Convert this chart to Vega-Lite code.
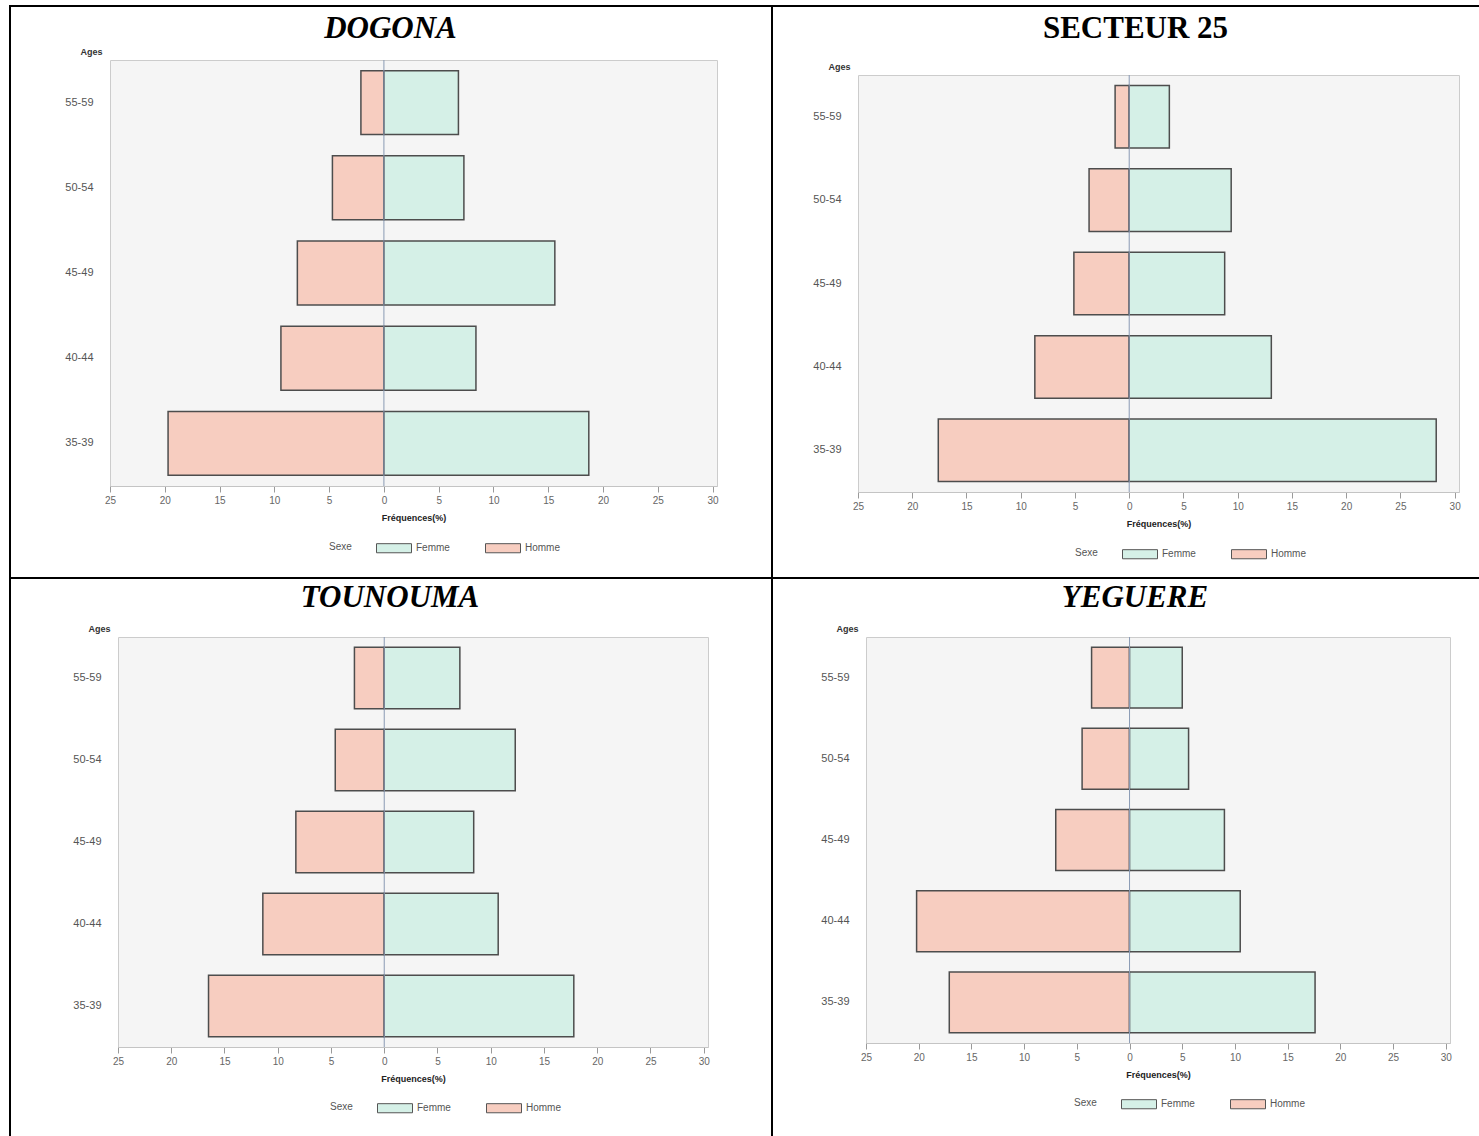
{
"$schema": "https://vega.github.io/schema/vega-lite/v6.json",
"padding": {"left": 9, "top": 5, "right": 0, "bottom": 0},
"background": "white",
"datasets": {
 "pyr": [
  {"site": "DOGONA", "age": "55-59", "sexe": "Homme", "freq": -2.1},
  {"site": "DOGONA", "age": "55-59", "sexe": "Femme", "freq": 6.8},
  {"site": "DOGONA", "age": "50-54", "sexe": "Homme", "freq": -4.7},
  {"site": "DOGONA", "age": "50-54", "sexe": "Femme", "freq": 7.3},
  {"site": "DOGONA", "age": "45-49", "sexe": "Homme", "freq": -7.9},
  {"site": "DOGONA", "age": "45-49", "sexe": "Femme", "freq": 15.6},
  {"site": "DOGONA", "age": "40-44", "sexe": "Homme", "freq": -9.4},
  {"site": "DOGONA", "age": "40-44", "sexe": "Femme", "freq": 8.4},
  {"site": "DOGONA", "age": "35-39", "sexe": "Homme", "freq": -19.7},
  {"site": "DOGONA", "age": "35-39", "sexe": "Femme", "freq": 18.7},
  {"site": "SECTEUR 25", "age": "55-59", "sexe": "Homme", "freq": -1.3},
  {"site": "SECTEUR 25", "age": "55-59", "sexe": "Femme", "freq": 3.7},
  {"site": "SECTEUR 25", "age": "50-54", "sexe": "Homme", "freq": -3.7},
  {"site": "SECTEUR 25", "age": "50-54", "sexe": "Femme", "freq": 9.4},
  {"site": "SECTEUR 25", "age": "45-49", "sexe": "Homme", "freq": -5.1},
  {"site": "SECTEUR 25", "age": "45-49", "sexe": "Femme", "freq": 8.8},
  {"site": "SECTEUR 25", "age": "40-44", "sexe": "Homme", "freq": -8.7},
  {"site": "SECTEUR 25", "age": "40-44", "sexe": "Femme", "freq": 13.1},
  {"site": "SECTEUR 25", "age": "35-39", "sexe": "Homme", "freq": -17.6},
  {"site": "SECTEUR 25", "age": "35-39", "sexe": "Femme", "freq": 28.3},
  {"site": "TOUNOUMA", "age": "55-59", "sexe": "Homme", "freq": -2.8},
  {"site": "TOUNOUMA", "age": "55-59", "sexe": "Femme", "freq": 7.1},
  {"site": "TOUNOUMA", "age": "50-54", "sexe": "Homme", "freq": -4.6},
  {"site": "TOUNOUMA", "age": "50-54", "sexe": "Femme", "freq": 12.3},
  {"site": "TOUNOUMA", "age": "45-49", "sexe": "Homme", "freq": -8.3},
  {"site": "TOUNOUMA", "age": "45-49", "sexe": "Femme", "freq": 8.4},
  {"site": "TOUNOUMA", "age": "40-44", "sexe": "Homme", "freq": -11.4},
  {"site": "TOUNOUMA", "age": "40-44", "sexe": "Femme", "freq": 10.7},
  {"site": "TOUNOUMA", "age": "35-39", "sexe": "Homme", "freq": -16.5},
  {"site": "TOUNOUMA", "age": "35-39", "sexe": "Femme", "freq": 17.8},
  {"site": "YEGUERE", "age": "55-59", "sexe": "Homme", "freq": -3.6},
  {"site": "YEGUERE", "age": "55-59", "sexe": "Femme", "freq": 5.0},
  {"site": "YEGUERE", "age": "50-54", "sexe": "Homme", "freq": -4.5},
  {"site": "YEGUERE", "age": "50-54", "sexe": "Femme", "freq": 5.6},
  {"site": "YEGUERE", "age": "45-49", "sexe": "Homme", "freq": -7.0},
  {"site": "YEGUERE", "age": "45-49", "sexe": "Femme", "freq": 9.0},
  {"site": "YEGUERE", "age": "40-44", "sexe": "Homme", "freq": -20.2},
  {"site": "YEGUERE", "age": "40-44", "sexe": "Femme", "freq": 10.5},
  {"site": "YEGUERE", "age": "35-39", "sexe": "Homme", "freq": -17.1},
  {"site": "YEGUERE", "age": "35-39", "sexe": "Femme", "freq": 17.6}
 ]
},
"spacing": 0,
"vconcat": [
 {
  "spacing": 0,
  "hconcat": [
   {
    "columns": 4, "spacing": 0, "bounds": "flush", "align": "each",
    "concat": [
     {"width": 2, "height": 2, "data": {"values": []}, "mark": "point", "view": {"fill": "black", "stroke": null}},
     {"width": 99, "height": 2, "data": {"values": []}, "mark": "point", "view": {"fill": "black", "stroke": null}},
     {"width": 607, "height": 2, "data": {"values": []}, "mark": "point", "view": {"fill": "black", "stroke": null}},
     {"width": 54, "height": 2, "data": {"values": []}, "mark": "point", "view": {"fill": "black", "stroke": null}},
     {"width": 2, "height": 53, "data": {"values": []}, "mark": "point", "view": {"fill": "black", "stroke": null}},
     {"width": 99, "height": 53, "data": {"values": []}, "mark": "point"},
     {"width": 607, "height": 53, "data": {"values": []}, "mark": "point"},
     {"width": 54, "height": 53, "data": {"values": []}, "mark": "point"},
     {"width": 2, "height": 426, "data": {"values": []}, "mark": "point", "view": {"fill": "black", "stroke": null}},
     {"width": 99, "height": 426, "data": {"values": []}, "mark": "point"},
     {
      "width": 607, "height": 426,
      "title": {"text": "DOGONA", "fontStyle": "italic", "offset": 2},
      "data": {"name": "pyr"},
      "transform": [{"filter": "datum.site === 'DOGONA'"}],
      "view": {"fill": "#f5f5f5", "stroke": "#cccccc"},
      "layer": [
       {"mark": {"type": "bar", "stroke": "#4d4d4d", "strokeWidth": 1.5},
        "encoding": {
         "y": {"field": "age", "type": "nominal", "sort": ["55-59","50-54","45-49","40-44","35-39"], "scale": {"paddingInner": 0.25, "paddingOuter": 0.125}, "axis": {"title": "Ages"}},
         "x": {"field": "freq", "type": "quantitative", "stack": null, "scale": {"domain": [-25, 30.4], "nice": false}, "axis": {"title": "Fréquences(%)"}},
         "fill": {"field": "sexe", "type": "nominal", "scale": {"domain": ["Femme","Homme"], "range": ["#d5f0e7","#f7cdc0"]}, "legend": {"title": "Sexe", "legendX": 219, "legendY": 470}}
        }},
       {"data": {"values": [{}]}, "mark": {"type": "rule", "color": "#8a9ab4", "strokeWidth": 1}, "encoding": {"x": {"datum": 0}}}
      ]
     },
     {"width": 54, "height": 426, "data": {"values": []}, "mark": "point"},
     {"width": 2, "height": 91, "data": {"values": []}, "mark": "point", "view": {"fill": "black", "stroke": null}},
     {"width": 99, "height": 91, "data": {"values": []}, "mark": "point"},
     {"width": 607, "height": 91, "data": {"values": []}, "mark": "point"},
     {"width": 54, "height": 91, "data": {"values": []}, "mark": "point"}
    ],
    "resolve": {"scale": {"x": "independent", "y": "independent", "fill": "independent"}, "axis": {"x": "independent", "y": "independent"}, "legend": {"fill": "independent"}}
   },
   {
    "columns": 4, "spacing": 0, "bounds": "flush", "align": "each",
    "concat": [
     {"width": 2, "height": 2, "data": {"values": []}, "mark": "point", "view": {"fill": "black", "stroke": null}},
     {"width": 85, "height": 2, "data": {"values": []}, "mark": "point", "view": {"fill": "black", "stroke": null}},
     {"width": 601, "height": 2, "data": {"values": []}, "mark": "point", "view": {"fill": "black", "stroke": null}},
     {"width": 20, "height": 2, "data": {"values": []}, "mark": "point", "view": {"fill": "black", "stroke": null}},
     {"width": 2, "height": 68, "data": {"values": []}, "mark": "point", "view": {"fill": "black", "stroke": null}},
     {"width": 85, "height": 68, "data": {"values": []}, "mark": "point"},
     {"width": 601, "height": 68, "data": {"values": []}, "mark": "point"},
     {"width": 20, "height": 68, "data": {"values": []}, "mark": "point"},
     {"width": 2, "height": 417, "data": {"values": []}, "mark": "point", "view": {"fill": "black", "stroke": null}},
     {"width": 85, "height": 417, "data": {"values": []}, "mark": "point"},
     {
      "width": 601, "height": 417,
      "title": {"text": "SECTEUR 25", "fontStyle": "normal", "offset": 17},
      "data": {"name": "pyr"},
      "transform": [{"filter": "datum.site === 'SECTEUR 25'"}],
      "view": {"fill": "#f5f5f5", "stroke": "#cccccc"},
      "layer": [
       {"mark": {"type": "bar", "stroke": "#4d4d4d", "strokeWidth": 1.5},
        "encoding": {
         "y": {"field": "age", "type": "nominal", "sort": ["55-59","50-54","45-49","40-44","35-39"], "scale": {"paddingInner": 0.25, "paddingOuter": 0.125}, "axis": {"title": "Ages"}},
         "x": {"field": "freq", "type": "quantitative", "stack": null, "scale": {"domain": [-25, 30.4], "nice": false}, "axis": {"title": "Fréquences(%)"}},
         "fill": {"field": "sexe", "type": "nominal", "scale": {"domain": ["Femme","Homme"], "range": ["#d5f0e7","#f7cdc0"]}, "legend": {"title": "Sexe", "legendX": 217, "legendY": 461}}
        }},
       {"data": {"values": [{}]}, "mark": {"type": "rule", "color": "#8a9ab4", "strokeWidth": 1}, "encoding": {"x": {"datum": 0}}}
      ]
     },
     {"width": 20, "height": 417, "data": {"values": []}, "mark": "point"},
     {"width": 2, "height": 85, "data": {"values": []}, "mark": "point", "view": {"fill": "black", "stroke": null}},
     {"width": 85, "height": 85, "data": {"values": []}, "mark": "point"},
     {"width": 601, "height": 85, "data": {"values": []}, "mark": "point"},
     {"width": 20, "height": 85, "data": {"values": []}, "mark": "point"}
    ],
    "resolve": {"scale": {"x": "independent", "y": "independent", "fill": "independent"}, "axis": {"x": "independent", "y": "independent"}, "legend": {"fill": "independent"}}
   }
  ],
  "resolve": {"scale": {"x": "independent", "y": "independent", "fill": "independent"}, "axis": {"x": "independent", "y": "independent"}, "legend": {"fill": "independent"}}
 },
 {
  "spacing": 0,
  "hconcat": [
   {
    "columns": 4, "spacing": 0, "bounds": "flush", "align": "each",
    "concat": [
     {"width": 2, "height": 2, "data": {"values": []}, "mark": "point", "view": {"fill": "black", "stroke": null}},
     {"width": 107, "height": 2, "data": {"values": []}, "mark": "point", "view": {"fill": "black", "stroke": null}},
     {"width": 590, "height": 2, "data": {"values": []}, "mark": "point", "view": {"fill": "black", "stroke": null}},
     {"width": 63, "height": 2, "data": {"values": []}, "mark": "point", "view": {"fill": "black", "stroke": null}},
     {"width": 2, "height": 58, "data": {"values": []}, "mark": "point", "view": {"fill": "black", "stroke": null}},
     {"width": 107, "height": 58, "data": {"values": []}, "mark": "point"},
     {"width": 590, "height": 58, "data": {"values": []}, "mark": "point"},
     {"width": 63, "height": 58, "data": {"values": []}, "mark": "point"},
     {"width": 2, "height": 410, "data": {"values": []}, "mark": "point", "view": {"fill": "black", "stroke": null}},
     {"width": 107, "height": 410, "data": {"values": []}, "mark": "point"},
     {
      "width": 590, "height": 410,
      "title": {"text": "TOUNOUMA", "fontStyle": "italic", "offset": 10},
      "data": {"name": "pyr"},
      "transform": [{"filter": "datum.site === 'TOUNOUMA'"}],
      "view": {"fill": "#f5f5f5", "stroke": "#cccccc"},
      "layer": [
       {"mark": {"type": "bar", "stroke": "#4d4d4d", "strokeWidth": 1.5},
        "encoding": {
         "y": {"field": "age", "type": "nominal", "sort": ["55-59","50-54","45-49","40-44","35-39"], "scale": {"paddingInner": 0.25, "paddingOuter": 0.125}, "axis": {"title": "Ages"}},
         "x": {"field": "freq", "type": "quantitative", "stack": null, "scale": {"domain": [-25, 30.4], "nice": false}, "axis": {"title": "Fréquences(%)"}},
         "fill": {"field": "sexe", "type": "nominal", "scale": {"domain": ["Femme","Homme"], "range": ["#d5f0e7","#f7cdc0"]}, "legend": {"title": "Sexe", "legendX": 212, "legendY": 453}}
        }},
       {"data": {"values": [{}]}, "mark": {"type": "rule", "color": "#8a9ab4", "strokeWidth": 1}, "encoding": {"x": {"datum": 0}}}
      ]
     },
     {"width": 63, "height": 410, "data": {"values": []}, "mark": "point"},
     {"width": 2, "height": 89, "data": {"values": []}, "mark": "point", "view": {"fill": "black", "stroke": null}},
     {"width": 107, "height": 89, "data": {"values": []}, "mark": "point"},
     {"width": 590, "height": 89, "data": {"values": []}, "mark": "point"},
     {"width": 63, "height": 89, "data": {"values": []}, "mark": "point"}
    ],
    "resolve": {"scale": {"x": "independent", "y": "independent", "fill": "independent"}, "axis": {"x": "independent", "y": "independent"}, "legend": {"fill": "independent"}}
   },
   {
    "columns": 4, "spacing": 0, "bounds": "flush", "align": "each",
    "concat": [
     {"width": 2, "height": 2, "data": {"values": []}, "mark": "point", "view": {"fill": "black", "stroke": null}},
     {"width": 93, "height": 2, "data": {"values": []}, "mark": "point", "view": {"fill": "black", "stroke": null}},
     {"width": 584, "height": 2, "data": {"values": []}, "mark": "point", "view": {"fill": "black", "stroke": null}},
     {"width": 29, "height": 2, "data": {"values": []}, "mark": "point", "view": {"fill": "black", "stroke": null}},
     {"width": 2, "height": 58, "data": {"values": []}, "mark": "point", "view": {"fill": "black", "stroke": null}},
     {"width": 93, "height": 58, "data": {"values": []}, "mark": "point"},
     {"width": 584, "height": 58, "data": {"values": []}, "mark": "point"},
     {"width": 29, "height": 58, "data": {"values": []}, "mark": "point"},
     {"width": 2, "height": 406, "data": {"values": []}, "mark": "point", "view": {"fill": "black", "stroke": null}},
     {"width": 93, "height": 406, "data": {"values": []}, "mark": "point"},
     {
      "width": 584, "height": 406,
      "title": {"text": "YEGUERE", "fontStyle": "italic", "offset": 10},
      "data": {"name": "pyr"},
      "transform": [{"filter": "datum.site === 'YEGUERE'"}],
      "view": {"fill": "#f5f5f5", "stroke": "#cccccc"},
      "layer": [
       {"mark": {"type": "bar", "stroke": "#4d4d4d", "strokeWidth": 1.5},
        "encoding": {
         "y": {"field": "age", "type": "nominal", "sort": ["55-59","50-54","45-49","40-44","35-39"], "scale": {"paddingInner": 0.25, "paddingOuter": 0.125}, "axis": {"title": "Ages"}},
         "x": {"field": "freq", "type": "quantitative", "stack": null, "scale": {"domain": [-25, 30.4], "nice": false}, "axis": {"title": "Fréquences(%)"}},
         "fill": {"field": "sexe", "type": "nominal", "scale": {"domain": ["Femme","Homme"], "range": ["#d5f0e7","#f7cdc0"]}, "legend": {"title": "Sexe", "legendX": 208, "legendY": 449}}
        }},
       {"data": {"values": [{}]}, "mark": {"type": "rule", "color": "#8a9ab4", "strokeWidth": 1}, "encoding": {"x": {"datum": 0}}}
      ]
     },
     {"width": 29, "height": 406, "data": {"values": []}, "mark": "point"},
     {"width": 2, "height": 93, "data": {"values": []}, "mark": "point", "view": {"fill": "black", "stroke": null}},
     {"width": 93, "height": 93, "data": {"values": []}, "mark": "point"},
     {"width": 584, "height": 93, "data": {"values": []}, "mark": "point"},
     {"width": 29, "height": 93, "data": {"values": []}, "mark": "point"}
    ],
    "resolve": {"scale": {"x": "independent", "y": "independent", "fill": "independent"}, "axis": {"x": "independent", "y": "independent"}, "legend": {"fill": "independent"}}
   }
  ],
  "resolve": {"scale": {"x": "independent", "y": "independent", "fill": "independent"}, "axis": {"x": "independent", "y": "independent"}, "legend": {"fill": "independent"}}
 }
],
"resolve": {"scale": {"x": "independent", "y": "independent", "fill": "independent"}, "axis": {"x": "independent", "y": "independent"}, "legend": {"fill": "independent"}},
"config": {
 "view": {"stroke": null},
 "font": "Liberation Sans",
 "title": {"font": "Liberation Serif", "fontSize": 31, "fontWeight": "bold", "color": "black", "anchor": "middle", "dx": -23},
 "axisY": {
  "titleAngle": 0, "titleAlign": "right", "titleBaseline": "middle", "titleX": -8, "titleY": -9,
  "titleFontSize": 9, "titleFontWeight": "bold", "titleColor": "#333333",
  "ticks": false, "domain": false, "grid": false, "labelPadding": 17, "labelFontSize": 11, "labelColor": "#555555"
 },
 "axisX": {
  "values": [-25,-24,-23,-22,-21,-20,-19,-18,-17,-16,-15,-14,-13,-12,-11,-10,-9,-8,-7,-6,-5,-4,-3,-2,-1,0,1,2,3,4,5,6,7,8,9,10,11,12,13,14,15,16,17,18,19,20,21,22,23,24,25,26,27,28,29,30],
  "labelExpr": "datum.value % 5 === 0 ? '' + abs(datum.value) : ''",
  "labelOverlap": false, "labelFlush": false, "grid": false,
  "tickSize": {"condition": {"test": "datum.value % 5 === 0", "value": 6}, "value": 3},
  "tickColor": "#9a9a9a", "domainColor": "#c4c4c4",
  "labelFontSize": 10, "labelColor": "#666666", "labelPadding": 3,
  "titleFontSize": 9, "titleFontWeight": "bold", "titleColor": "#222222", "titlePadding": 8
 },
 "legend": {
  "orient": "none", "direction": "horizontal", "titleOrient": "left", "titleAnchor": "middle", "titleBaseline": "top",
  "titleFontWeight": "normal", "titleFontSize": 10, "titleColor": "#555555", "titlePadding": 24,
  "labelFontSize": 10, "labelColor": "#555555", "labelOffset": 4, "columnPadding": 33,
  "symbolType": "M-1,-0.26H1V0.26H-1Z", "symbolSize": 1225, "symbolStrokeColor": "#555555", "symbolStrokeWidth": 1
 }
}
}
